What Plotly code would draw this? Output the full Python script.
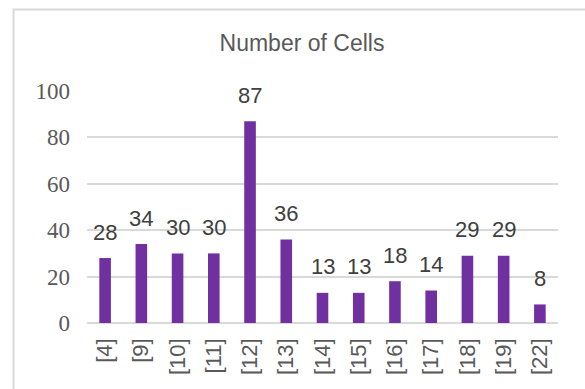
import plotly.graph_objects as go

# Cell counts per group
categories = ["[4]", "[9]", "[10]", "[11]", "[12]", "[13]", "[14]",
              "[15]", "[16]", "[17]", "[18]", "[19]", "[22]"]
counts = [28, 34, 30, 30, 87, 36, 13, 13, 18, 14, 29, 29, 8]
y_ticks = [0, 20, 40, 60, 80, 100]

BAR_COLOR = "#7030A0"
GRID_COLOR = "#D9D9D9"
TEXT_GRAY = "#595959"
LABEL_GRAY = "#404040"
SANS = "Liberation Sans"
SERIF = "Liberation Serif"

fig = go.Figure(
    go.Bar(
        x=categories,
        y=counts,
        marker=dict(color=BAR_COLOR, line=dict(width=0)),
        hoverinfo="x+y",
    )
)

# value labels above each bar
for cat, val in zip(categories, counts):
    fig.add_annotation(
        x=cat, y=val, text=str(val), showarrow=False,
        xref="x", yref="y", yanchor="middle", yshift=26,
        font=dict(family=SANS, size=22, color=LABEL_GRAY),
    )

# outer chart frame
fig.add_shape(
    type="rect", xref="paper", yref="paper",
    x0=-0.156, x1=2.0, y0=-1.0, y1=1.351,
    line=dict(color=GRID_COLOR, width=2), fillcolor="rgba(0,0,0,0)",
    layer="below",
)

fig.update_layout(
    width=585, height=389,
    margin=dict(l=87, r=27, t=91, b=66),
    paper_bgcolor="white", plot_bgcolor="white",
    bargap=0.68,
    showlegend=False,
    title=dict(
        text="Number of Cells",
        x=302 / 585, xanchor="center",
        y=1 - 43 / 389, yanchor="middle",
        font=dict(family=SANS, size=23, color=TEXT_GRAY),
    ),
    xaxis=dict(
        type="category",
        tickangle=-90,
        showgrid=False, showline=False, ticks="",
        tickfont=dict(family=SANS, size=22, color=TEXT_GRAY),
        ticklabelstandoff=10,
        automargin=False,
    ),
    yaxis=dict(
        range=[0, 100],
        tickvals=y_ticks,
        showgrid=True, gridcolor=GRID_COLOR, gridwidth=1.5,
        zeroline=True, zerolinecolor=GRID_COLOR, zerolinewidth=1.5,
        showline=False, ticks="",
        tickfont=dict(family=SERIF, size=23, color=TEXT_GRAY),
        ticklabelstandoff=16,
        automargin=False,
    ),
)

fig.write_html("out.html")
